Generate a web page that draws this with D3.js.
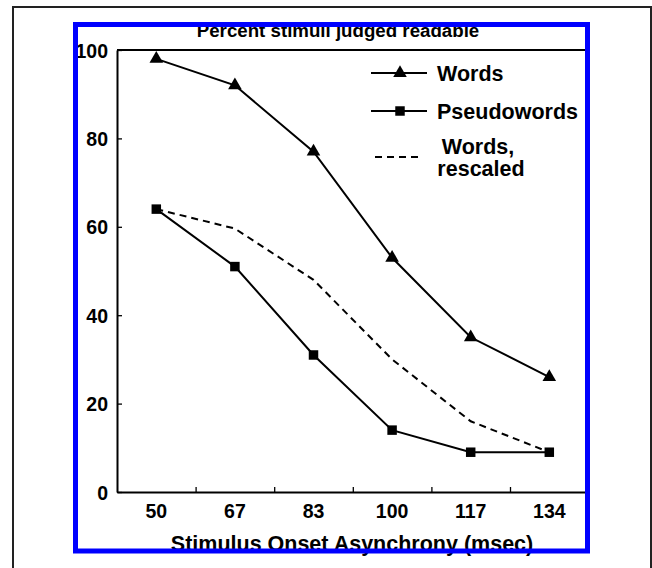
<!DOCTYPE html>
<html>
<head>
<meta charset="utf-8">
<script src="https://cdn.jsdelivr.net/npm/d3@7"></script>
<style>
  html, body { margin: 0; padding: 0; background: #fff; }
  svg { display: block; }
  text { font-family: "Liberation Sans", Arial, sans-serif; font-weight: bold; fill: #000; }
</style>
</head>
<body>
<svg id="chart" width="652" height="568"></svg>
<script>
// ---- data ----
const categories = ["50", "67", "83", "100", "117", "134"];
const wordsValues = [98, 92, 77, 53, 35, 26];
const pseudowordsValues = [64, 51, 31, 14, 9, 9];
const wordsRescaledValues = [64, 59.6, 48, 30, 16, 9];
const yTickValues = [0, 20, 40, 60, 80, 100];
const seriesNames = ["Words", "Pseudowords", "Words,", "rescaled"];
const chartTitle = "Percent stimuli judged readable";
const xAxisTitle = "Stimulus Onset Asynchrony (msec)";

(function () {
const svg = d3.select("#chart");

// outer frame
svg.append("rect").attr("x", 13).attr("y", 7).attr("width", 638).attr("height", 620)
  .attr("fill", "none").attr("stroke", "#222").attr("stroke-width", 2);

const pL = 117, pR = 588.6, pT = 50, pB = 492;

const x = d3.scaleBand().domain(categories).range([pL, pR]).padding(0);
const xb = d3.scaleLinear().domain([0, categories.length]).range([pL, pR]);
const y = d3.scaleLinear().domain([0, 100]).range([pB, pT]);
const cx = d => x(d) + x.bandwidth() / 2;

// plot frame
const frame = svg.append("g").attr("stroke", "#000").attr("stroke-width", 2);
frame.append("line").attr("x1", pL).attr("x2", pR).attr("y1", pT).attr("y2", pT);
frame.append("line").attr("x1", pR).attr("x2", pR).attr("y1", pT).attr("y2", pB);

// y axis
const yAxis = svg.append("g").attr("transform", `translate(${pL},0)`)
  .call(d3.axisLeft(y).tickValues(yTickValues).tickSize(-5).tickPadding(9).tickSizeOuter(0));
yAxis.select(".domain").attr("stroke-width", 2);
yAxis.selectAll(".tick line").attr("stroke-width", 1.3);
yAxis.selectAll("text").style("font-size", "19.5px").attr("font-family", null).attr("dy", "0.36em");

// x axis: boundary ticks
const xTicks = svg.append("g").attr("transform", `translate(0,${pB})`)
  .call(d3.axisBottom(xb).tickValues(d3.range(1, categories.length)).tickSize(-5).tickFormat("").tickSizeOuter(0));
xTicks.select(".domain").attr("stroke-width", 2);
xTicks.selectAll(".tick line").attr("stroke-width", 1.3);

// x axis labels
const xLabels = svg.append("g").attr("transform", `translate(0,${pB})`)
  .call(d3.axisBottom(x).tickSize(0).tickPadding(12));
xLabels.select(".domain").remove();
xLabels.selectAll("text").style("font-size", "19.5px").attr("font-family", null);

// series
const line = d3.line().x((d, i) => cx(categories[i])).y(d => y(d));

svg.append("path").datum(wordsRescaledValues).attr("d", line)
  .attr("fill", "none").attr("stroke", "#000").attr("stroke-width", 2).attr("stroke-dasharray", "7,5");

svg.append("path").datum(pseudowordsValues).attr("d", line)
  .attr("fill", "none").attr("stroke", "#000").attr("stroke-width", 2);
svg.append("path").datum(wordsValues).attr("d", line)
  .attr("fill", "none").attr("stroke", "#000").attr("stroke-width", 2);

const tri = d3.symbol().type(d3.symbolTriangle).size(80);
const sq = d3.symbol().type(d3.symbolSquare).size(90);

svg.append("g").selectAll("path").data(wordsValues).join("path")
  .attr("d", tri).attr("fill", "#000")
  .attr("transform", (d, i) => `translate(${cx(categories[i])},${y(d)})`);
svg.append("g").selectAll("path").data(pseudowordsValues).join("path")
  .attr("d", sq).attr("fill", "#000")
  .attr("transform", (d, i) => `translate(${cx(categories[i])},${y(d)})`);

// legend
const lg = svg.append("g");
lg.append("line").attr("x1", 371).attr("x2", 427).attr("y1", 73).attr("y2", 73).attr("stroke", "#000").attr("stroke-width", 2);
lg.append("path").attr("d", tri).attr("transform", "translate(400,73)").attr("fill", "#000");
lg.append("text").attr("x", 437).attr("y", 73).attr("dy", "0.36em").style("font-size", "21.5px").text(seriesNames[0]);

lg.append("line").attr("x1", 371).attr("x2", 427).attr("y1", 111).attr("y2", 111).attr("stroke", "#000").attr("stroke-width", 2);
lg.append("path").attr("d", sq).attr("transform", "translate(400,111)").attr("fill", "#000");
lg.append("text").attr("x", 437).attr("y", 111).attr("dy", "0.36em").style("font-size", "21.5px").text(seriesNames[1]);

lg.append("line").attr("x1", 375).attr("x2", 421).attr("y1", 157).attr("y2", 157).attr("stroke", "#000").attr("stroke-width", 2).attr("stroke-dasharray", "7,5");
lg.append("text").attr("x", 478).attr("y", 146).attr("dy", "0.36em").attr("text-anchor", "middle").style("font-size", "21.5px").text(seriesNames[2]);
lg.append("text").attr("x", 481).attr("y", 168).attr("dy", "0.36em").attr("text-anchor", "middle").style("font-size", "21.5px").text(seriesNames[3]);

// titles
svg.append("text").attr("x", 338).attr("y", 36.5).attr("text-anchor", "middle").style("font-size", "18.7px").text(chartTitle);
svg.append("text").attr("x", 352).attr("y", 551).attr("text-anchor", "middle").style("font-size", "21.5px").text(xAxisTitle);

// blue frame on top
svg.append("rect").attr("x", 75.5).attr("y", 24.5).attr("width", 512).attr("height", 526.5)
  .attr("fill", "none").attr("stroke", "#0000ff").attr("stroke-width", 5);
})();
</script>
</body>
</html>
